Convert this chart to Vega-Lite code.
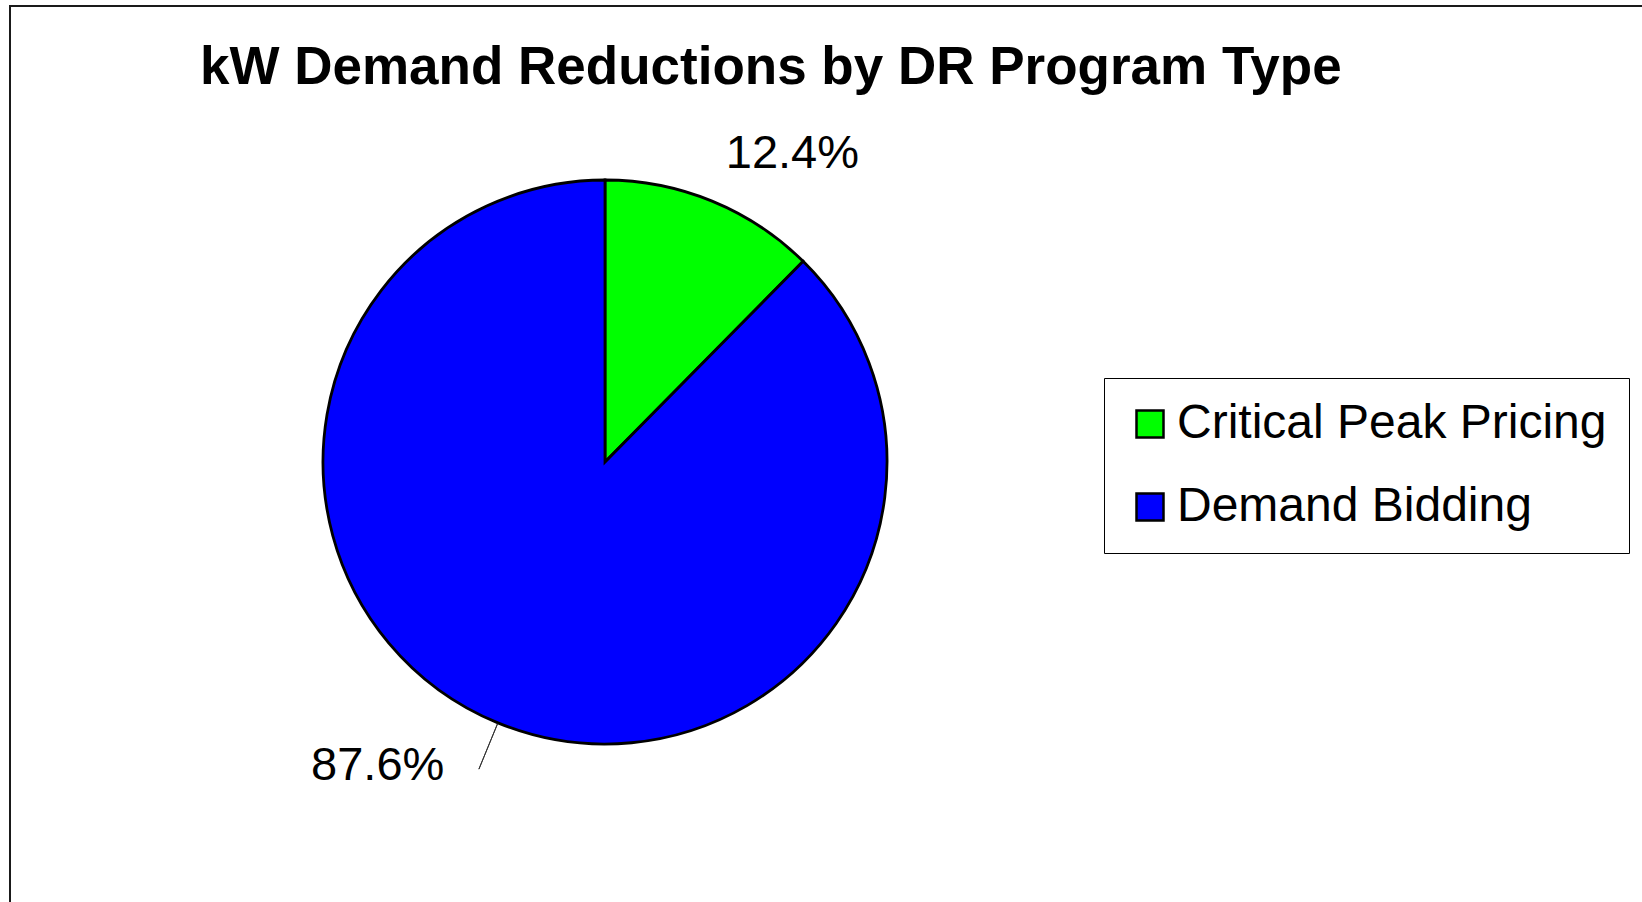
{
  "$schema": "https://vega.github.io/schema/vega-lite/v6.json",
  "width": 1636,
  "height": 900,
  "autosize": {"type": "none"},
  "padding": {"left": 10, "top": 6, "right": -4, "bottom": -4},
  "background": "white",
  "view": {"stroke": "#1a1a1a", "strokeWidth": 2},
  "config": {
    "view": {"stroke": "#1a1a1a", "strokeWidth": 2},
    "font": "Liberation Sans"
  },
  "title": {
    "text": "kW Demand Reductions by DR Program Type",
    "anchor": "start",
    "frame": "group",
    "orient": "top",
    "offset": -131,
    "dx": 190,
    "baseline": "alphabetic",
    "fontSize": 53,
    "fontWeight": "bold",
    "font": "Liberation Sans",
    "color": "black"
  },
  "data": {
    "values": [
      {"category": "Critical Peak Pricing", "share": 0.124},
      {"category": "Demand Bidding", "share": 0.876}
    ]
  },
  "layer": [
    {
      "mark": {"type": "arc", "x": 595, "y": 456, "radius": 282, "stroke": "black", "strokeWidth": 2.8},
      "encoding": {
        "theta": {"field": "share", "type": "quantitative", "stack": true, "scale": {"domain": [0, 1]}},
        "order": {"field": "category", "type": "nominal", "sort": "ascending"},
        "color": {
          "field": "category",
          "type": "nominal",
          "scale": {"domain": ["Critical Peak Pricing", "Demand Bidding"], "range": ["#00FF00", "#0000FF"]},
          "legend": {
            "orient": "none",
            "legendX": 1094,
            "legendY": 372,
            "title": null,
            "labelFontSize": 48,
            "labelFont": "Liberation Sans",
            "labelColor": "black",
            "labelLimit": 1000,
            "labelOffset": 3,
            "symbolType": "square",
            "symbolSize": 729,
            "symbolStrokeColor": "black",
            "symbolStrokeWidth": 2.5,
            "symbolOpacity": 1,
            "padding": 22,
            "rowPadding": 35,
            "strokeColor": "black",
            "fillColor": "white"
          }
        }
      }
    },
    {
      "transform": [
        {"stack": "share", "groupby": [], "sort": [{"field": "category"}], "as": ["start", "end"]},
        {"fold": ["start", "end"], "as": ["edge", "pos"]},
        {"aggregate": [{"op": "mean", "field": "pos", "as": "mid"}, {"op": "max", "field": "share", "as": "share"}], "groupby": ["category"]},
        {"filter": "datum.category === 'Critical Peak Pricing'"}
      ],
      "mark": {"type": "text", "x": 595, "y": 456, "radius": 318, "align": "left", "baseline": "alphabetic", "fontSize": 47, "font": "Liberation Sans", "color": "black"},
      "encoding": {
        "theta": {"field": "mid", "type": "quantitative", "stack": null, "scale": {"domain": [0, 1]}},
        "text": {"field": "share", "type": "quantitative", "format": ".1%"}
      }
    },
    {
      "transform": [
        {"stack": "share", "groupby": [], "sort": [{"field": "category"}], "as": ["start", "end"]},
        {"fold": ["start", "end"], "as": ["edge", "pos"]},
        {"aggregate": [{"op": "mean", "field": "pos", "as": "mid"}, {"op": "max", "field": "share", "as": "share"}], "groupby": ["category"]},
        {"filter": "datum.category === 'Demand Bidding'"}
      ],
      "mark": {"type": "text", "x": 595, "y": 456, "radius": 344, "dx": -30, "align": "right", "baseline": "alphabetic", "fontSize": 47, "font": "Liberation Sans", "color": "black"},
      "encoding": {
        "theta": {"field": "mid", "type": "quantitative", "stack": null, "scale": {"domain": [0, 1]}},
        "text": {"field": "share", "type": "quantitative", "format": ".1%"}
      }
    },
    {
      "transform": [
        {"stack": "share", "groupby": [], "sort": [{"field": "category"}], "as": ["start", "end"]},
        {"fold": ["start", "end"], "as": ["edge", "pos"]},
        {"aggregate": [{"op": "mean", "field": "pos", "as": "mid"}], "groupby": ["category"]},
        {"filter": "datum.category === 'Demand Bidding'"}
      ],
      "mark": {"type": "arc", "x": 595, "y": 456, "radius": 332, "radius2": 283, "fill": null, "stroke": "#333333", "strokeWidth": 1},
      "encoding": {
        "theta": {"field": "mid", "type": "quantitative", "stack": null, "scale": {"domain": [0, 1]}},
        "theta2": {"field": "mid"}
      }
    }
  ]
}
